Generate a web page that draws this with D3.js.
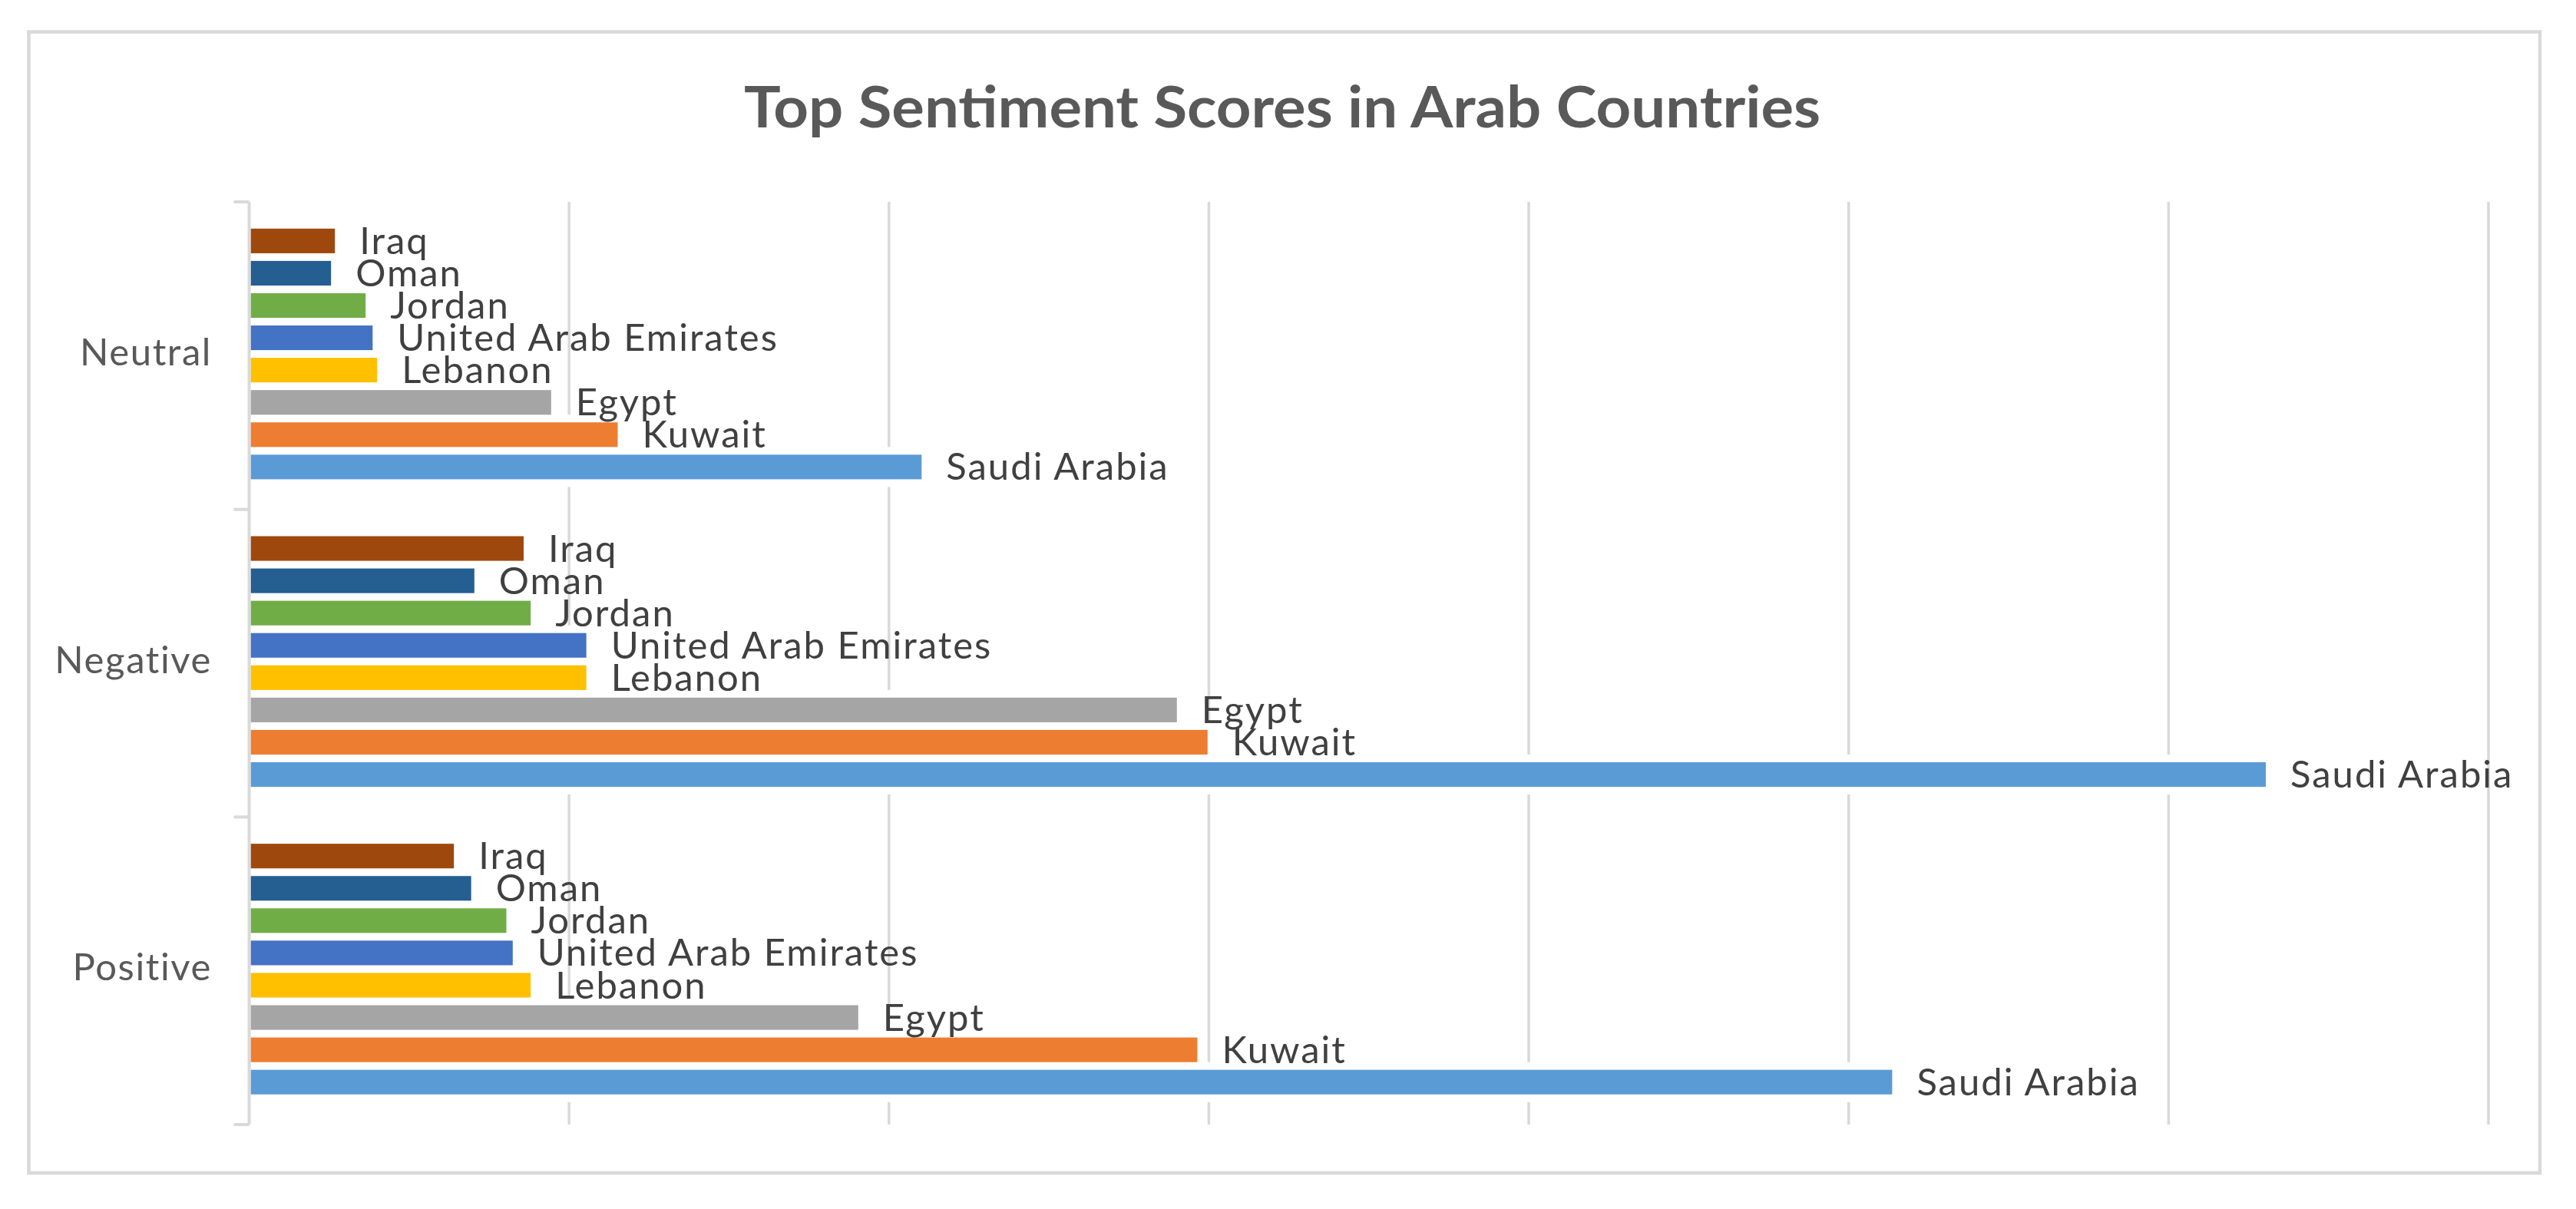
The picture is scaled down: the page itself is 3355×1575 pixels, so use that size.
<!DOCTYPE html>
<html>
<head>
<meta charset="utf-8">
<script src="https://cdn.jsdelivr.net/npm/d3@7/dist/d3.min.js"></script>
<style>
  html, body { margin: 0; padding: 0; background: #ffffff; }
  svg { display: block; }
</style>
</head>
<body>
<svg id="chart" width="3355" height="1575"></svg>
<script>
// ---------------- data ----------------
const title = "Top Sentiment Scores in Arab Countries";
const categories = ["Neutral", "Negative", "Positive"];
const countries = ["Iraq", "Oman", "Jordan", "United Arab Emirates", "Lebanon", "Egypt", "Kuwait", "Saudi Arabia"];
const neutralValues  = [134, 128, 182, 193, 200, 472, 576, 1051];
const negativeValues = [429, 352, 440, 527, 527, 1450, 1498, 3152];
const positiveValues = [320, 347, 402, 412, 440, 952, 1482, 2568];
const xMax = 3500;
const xTickStep = 500;

// ---------------- styles ----------------
const palette = ["#9E480E", "#255E91", "#70AD47", "#4472C4", "#FFC000", "#A5A5A5", "#ED7D31", "#5B9BD5"];
const gridColor = "#d9d9d9";
const labelFont = "Lato, 'Open Sans', sans-serif";

const valuesByCategory = {
  "Neutral": neutralValues,
  "Negative": negativeValues,
  "Positive": positiveValues
};

const svg = d3.select("#chart");

// chart frame
svg.append("rect")
  .attr("x", 37.5).attr("y", 41.5)
  .attr("width", 3270.5).attr("height", 1486.5)
  .attr("fill", "#ffffff")
  .attr("stroke", gridColor)
  .attr("stroke-width", 4.5);

// title
svg.append("text")
  .attr("x", 969).attr("y", 166)
  .attr("font-family", labelFont)
  .attr("font-weight", 700)
  .attr("font-size", 75)
  .attr("fill", "#595959")
  .attr("textLength", 1402)
  .attr("lengthAdjust", "spacingAndGlyphs")
  .text(title);

// scales
const plotTop = 263, plotBottom = 1465, plotLeft = 324.5, plotRight = 3241;
const x = d3.scaleLinear().domain([0, xMax]).range([plotLeft, plotRight]);
const y = d3.scaleBand().domain(categories).range([plotTop, plotBottom]).padding(0);
const inner = d3.scaleBand().domain(countries).range([0, y.bandwidth()])
  .paddingInner(0.2375).paddingOuter(0.881).align(0.47);
const color = d3.scaleOrdinal().domain(countries).range(palette);

// gridlines
const gridTicks = d3.range(xTickStep, xMax + 1, xTickStep);
svg.append("g").selectAll("line")
  .data(gridTicks)
  .join("line")
  .attr("x1", d => x(d)).attr("x2", d => x(d))
  .attr("y1", plotTop).attr("y2", plotBottom)
  .attr("stroke", gridColor)
  .attr("stroke-width", 3.5);

// flattened bar data
const bars = [];
categories.forEach(cat => {
  valuesByCategory[cat].forEach((v, i) => {
    bars.push({ cat, country: countries[i], value: v });
  });
});

// white halos behind bars (hide gridlines around bars)
svg.append("g").selectAll("rect")
  .data(bars)
  .join("rect")
  .attr("x", x(0) + 2)
  .attr("y", d => y(d.cat) + inner(d.country) - 10)
  .attr("width", d => x(d.value) - x(0) + 4)
  .attr("height", inner.bandwidth() + 20)
  .attr("fill", "#ffffff");

// bars
svg.append("g").selectAll("rect")
  .data(bars)
  .join("rect")
  .attr("x", x(0) + 2)
  .attr("y", d => y(d.cat) + inner(d.country))
  .attr("width", d => x(d.value) - x(0) - 2)
  .attr("height", inner.bandwidth())
  .attr("fill", d => color(d.country));

// y axis line + ticks at band boundaries
const axisG = svg.append("g");
axisG.append("line")
  .attr("x1", plotLeft).attr("x2", plotLeft)
  .attr("y1", plotTop).attr("y2", plotBottom)
  .attr("stroke", gridColor).attr("stroke-width", 4);
const boundaries = categories.map(c => y(c)).concat([y.range()[1]]);
axisG.selectAll("line.tick")
  .data(boundaries)
  .join("line")
  .attr("class", "tick")
  .attr("x1", plotLeft - 20).attr("x2", plotLeft)
  .attr("y1", d => d).attr("y2", d => d)
  .attr("stroke", gridColor).attr("stroke-width", 4);

// category labels
axisG.selectAll("text")
  .data(categories)
  .join("text")
  .attr("x", 276)
  .attr("y", d => y(d) + y.bandwidth() / 2 + 12.5)
  .attr("text-anchor", "end")
  .attr("font-family", labelFont)
  .attr("font-size", 49)
  .attr("letter-spacing", 1.6)
  .attr("fill", "#595959")
  .text(d => d);

// data labels (country names)
svg.append("g").selectAll("text")
  .data(bars)
  .join("text")
  .attr("x", d => x(d.value) + 32)
  .attr("y", d => y(d.cat) + inner(d.country) + inner.bandwidth() + 1)
  .attr("font-family", labelFont)
  .attr("font-size", 49)
  .attr("letter-spacing", 2)
  .attr("fill", "#404040")
  .text(d => d.country);
</script>
</body>
</html>
